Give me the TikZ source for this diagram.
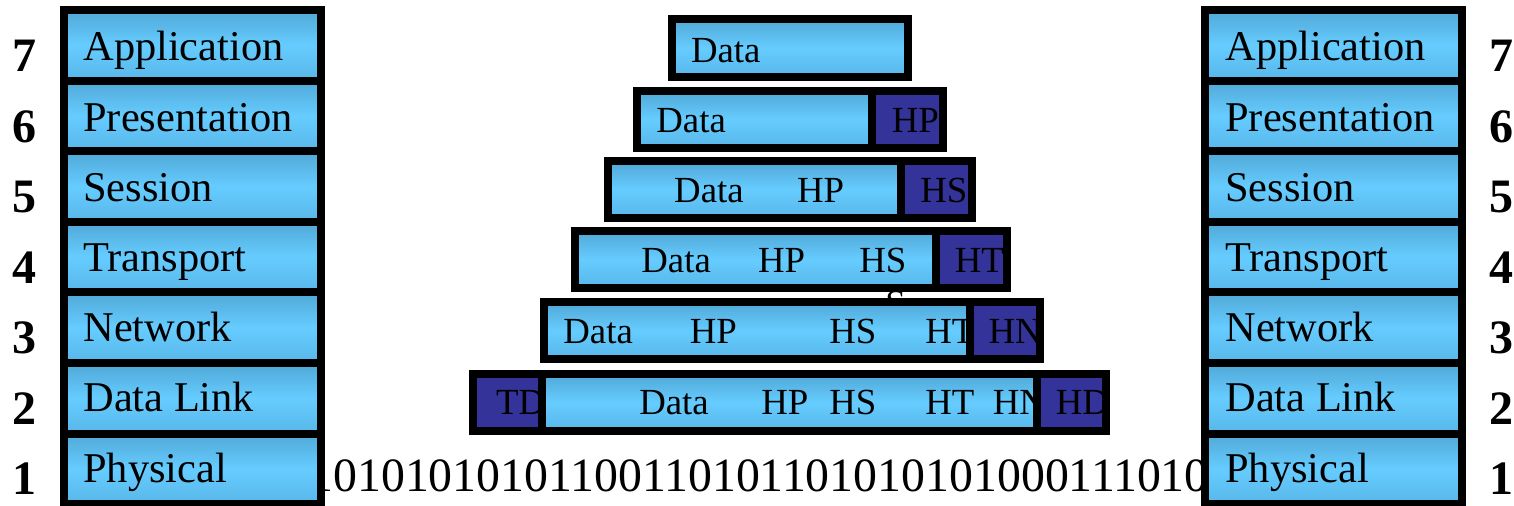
\documentclass[tikz,border=0pt]{standalone}
\usepackage{fontspec}
\setmainfont{Liberation Serif}
\definecolor{lb}{RGB}{102,204,255}
\definecolor{lbtop}{RGB}{80,168,214}
\definecolor{lbbot}{RGB}{88,182,232}
\definecolor{db}{RGB}{51,51,153}
\tikzset{
  layertxt/.style={anchor=base west, inner sep=0pt, font=\fontsize{21.2}{24}\selectfont},
  numtxt/.style={anchor=base, inner sep=0pt, font=\fontsize{24}{28}\selectfont\bfseries},
  celltxt/.style={anchor=base west, inner sep=0pt, font=\fontsize{18.4}{22}\selectfont},
  bitstxt/.style={anchor=base west, inner sep=0pt, font=\fontsize{23.9}{28}\selectfont},
  lightfill/.style={top color=lbtop, bottom color=lbbot, middle color=lb},
  darkfill/.style={fill=db},
  frame/.style={draw=black, line width=4pt},
}
\begin{document}
\begin{tikzpicture}[x=0.5pt,y=-0.5pt]
\useasboundingbox (0,0) rectangle (1514,506);

% bit stream (partly hidden by the stacks)
\node[bitstxt] (bits) at (309,491.7) {10101010101100110101101010101000111010};

% left and right layer stacks
\foreach \k/\lab/\n in {0/Application/7,1/Presentation/6,2/Session/5,3/Transport/4,4/Network/3,5/Data Link/2,6/Physical/1}{
  \pgfmathsetmacro{\yt}{10+70.6*\k}
  \pgfmathsetmacro{\yb}{80.7+70.6*\k}
  \pgfmathsetmacro{\yl}{61+70.2*\k}
  \pgfmathsetmacro{\yn}{72+70.5*\k}
  \path[lightfill] (64,\yt) rectangle (320.5,\yb);
  \draw[frame] (64,\yt) rectangle (320.5,\yb);
  \node[layertxt] (L\n) at (83,\yl) {\lab};
  \node[numtxt] (NL\n) at (24,\yn) {\n};
  \path[lightfill] (1204.5,\yt) rectangle (1461.5,\yb);
  \draw[frame] (1204.5,\yt) rectangle (1461.5,\yb);
  \node[layertxt] (R\n) at (1225,\yl) {\lab};
  \node[numtxt] (NR\n) at (1501,\yn) {\n};
}

% row 7
\path[lightfill] (671.5,19) rectangle (907.5,77);
\node[celltxt] (d7) at (690.6,62.3) {Data};
\draw[frame] (671.5,19) rectangle (907.5,77);

% row 6
\begin{scope}
  \clip (637,91) rectangle (871.6,148);
  \path[lightfill] (637,91) rectangle (871.6,148);
  \node[celltxt] (d6) at (656,132.3) {Data};
\end{scope}
\begin{scope}
  \clip (871.6,91) rectangle (943,148);
  \path[darkfill] (871.6,91) rectangle (943,148);
  \node[celltxt] (hp6) at (891.4,132.3) {HP};
\end{scope}
\draw[frame] (637,91) rectangle (943,148);
\draw[frame] (871.6,91) -- (871.6,148);

% row 5
\begin{scope}
  \clip (608,161) rectangle (901,218);
  \path[lightfill] (608,161) rectangle (901,218);
  \node[celltxt] (d5) at (673.8,202.7) {Data};
  \node[celltxt] (hp5) at (796.7,202.7) {HP};
\end{scope}
\begin{scope}
  \clip (901,161) rectangle (972,218);
  \path[darkfill] (901,161) rectangle (972,218);
  \node[celltxt] (hs5) at (920,202.7) {HS};
\end{scope}
\draw[frame] (608,161) rectangle (972,218);
\draw[frame] (901,161) -- (901,218);

% stray glyph between rows 4 and 3
\node[celltxt] (stray) at (885,316) {S};

% row 4
\begin{scope}
  \clip (574.7,231) rectangle (936,288);
  \path[lightfill] (574.7,231) rectangle (936,288);
  \node[celltxt] (d4) at (641,272.3) {Data};
  \node[celltxt] (hp4) at (757.6,272.3) {HP};
  \node[celltxt] (hs4) at (859,272.3) {HS};
\end{scope}
\begin{scope}
  \clip (936,231) rectangle (1006.5,288);
  \path[darkfill] (936,231) rectangle (1006.5,288);
  \node[celltxt] (ht4) at (954.5,272.3) {HT};
\end{scope}
\draw[frame] (574.7,231) rectangle (1006.5,288);
\draw[frame] (936,231) -- (936,288);

% row 3
\begin{scope}
  \clip (544,302) rectangle (970,359);
  \path[lightfill] (544,302) rectangle (970,359);
  \node[celltxt] (d3) at (563,343.3) {Data};
  \node[celltxt] (hp3) at (689.4,343.3) {HP};
  \node[celltxt] (hs3) at (829,343.3) {HS};
  \node[celltxt] (ht3) at (925,343.3) {HT};
\end{scope}
\begin{scope}
  \clip (970,302) rectangle (1040,359);
  \path[darkfill] (970,302) rectangle (1040,359);
  \node[celltxt] (hn3) at (988.2,343.3) {HN};
\end{scope}
\draw[frame] (544,302) rectangle (1040,359);
\draw[frame] (970,302) -- (970,359);

% row 2
\begin{scope}
  \clip (473,374) rectangle (541.5,431);
  \path[darkfill] (473,374) rectangle (541.5,431);
  \node[celltxt] (td2) at (495.8,415) {TD};
\end{scope}
\begin{scope}
  \clip (541.5,374) rectangle (1036.6,431);
  \path[lightfill] (541.5,374) rectangle (1036.6,431);
  \node[celltxt] (d2) at (638.9,415) {Data};
  \node[celltxt] (hp2) at (761,415) {HP};
  \node[celltxt] (hs2) at (829,415) {HS};
  \node[celltxt] (ht2) at (925,415) {HT};
  \node[celltxt] (hn2) at (992.4,415) {HN};
\end{scope}
\begin{scope}
  \clip (1036.6,374) rectangle (1106,431);
  \path[darkfill] (1036.6,374) rectangle (1106,431);
  \node[celltxt] (hd2) at (1055.5,415) {HD};
\end{scope}
\draw[frame] (473,374) rectangle (1106,431);
\draw[frame] (541.5,374) -- (541.5,431);
\draw[frame] (1036.6,374) -- (1036.6,431);

\end{tikzpicture}
\end{document}
